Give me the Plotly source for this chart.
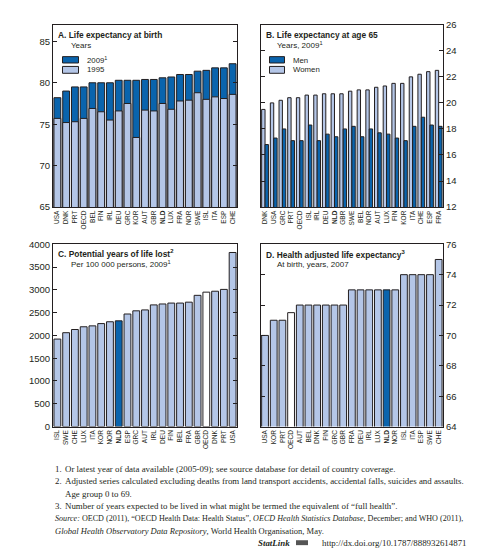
import plotly.graph_objects as go

# ---------------- data ----------------
a_countries = ["USA", "DNK", "PRT", "OECD", "BEL", "FIN", "IRL", "DEU", "GRC", "KOR", "AUT",
               "GBR", "NLD", "LUX", "FRA", "NOR", "SWE", "ISL", "ITA", "ESP", "CHE"]
a_2009 = [78.2, 79.0, 79.5, 79.5, 80.0, 80.0, 80.0, 80.3, 80.3, 80.3, 80.4,
          80.4, 80.6, 80.7, 81.0, 81.0, 81.4, 81.5, 81.8, 81.8, 82.3]
a_1995 = [75.7, 75.2, 75.3, 75.7, 76.9, 76.5, 75.5, 76.6, 77.5, 73.4, 76.7,
          76.6, 77.5, 76.8, 77.8, 77.9, 78.8, 78.0, 78.3, 78.1, 78.6]

b_countries = ["DNK", "USA", "GRC", "PRT", "OECD", "ISL", "IRL", "DEU", "NLD", "GBR", "SWE",
               "BEL", "NOR", "AUT", "LUX", "FIN", "KOR", "ITA", "CHE", "ESP", "FRA"]
b_women = [19.5, 20.0, 20.2, 20.4, 20.4, 20.6, 20.6, 20.7, 20.7, 20.7, 20.9,
           21.0, 21.0, 21.2, 21.3, 21.5, 21.5, 22.0, 22.2, 22.4, 22.5]
b_men = [16.8, 17.3, 18.0, 17.1, 17.1, 18.3, 17.1, 17.6, 17.4, 18.0, 18.2,
         17.4, 18.0, 17.7, 17.6, 17.3, 17.1, 18.2, 18.9, 18.3, 18.2]

c_countries = ["ISL", "SWE", "CHE", "LUX", "ITA", "KOR", "NOR", "NLD", "ESP", "GRC", "AUT",
               "IRL", "DEU", "FIN", "BEL", "FRA", "GBR", "OECD", "DNK", "PRT", "USA"]
c_values = [1920, 2060, 2130, 2190, 2210, 2260, 2300, 2320, 2470, 2540, 2560,
            2670, 2690, 2710, 2710, 2730, 2880, 2950, 2970, 3010, 3820]

d_countries = ["USA", "KOR", "PRT", "OECD", "AUT", "BEL", "DNK", "FIN", "GRC", "GBR", "FRA",
               "DEU", "IRL", "LUX", "NLD", "NOR", "ISL", "ITA", "ESP", "SWE", "CHE"]
d_values = [70, 71, 71, 71.5, 72, 72, 72, 72, 72, 72, 73,
            73, 73, 73, 73, 73, 74, 74, 74, 74, 75]

a_ticks = [65, 70, 75, 80, 85]
b_ticks = [12, 14, 16, 18, 20, 22, 24, 26]
c_ticks = [0, 500, 1000, 1500, 2000, 2500, 3000, 3500, 4000]
d_ticks = [64, 66, 68, 70, 72, 74, 76]

# ---------------- style ----------------
DARK = "#0a64ad"
LIGHT = "#b4c6e7"
EDGE = "#231f20"
TXT = "#231f20"
W, H = 478, 549
SANS = "Liberation Sans, Arial, sans-serif"
SERIF = "Liberation Serif, serif"


def px(x):
    return x / W


def py(y):
    return 1 - y / H


def labels(cats):
    return ["<b>%s</b>" % c if c == "NLD" else c for c in cats]


def highlight(cats):
    out = []
    for c in cats:
        if c == "OECD":
            out.append("white")
        elif c == "NLD":
            out.append(DARK)
        else:
            out.append(LIGHT)
    return out


line = dict(color=EDGE, width=1)

fig = go.Figure()
# Panel A (overlaid bars)
fig.add_trace(go.Bar(x=a_countries, y=a_2009, marker=dict(color=DARK, line=line),
                     offsetgroup="a", xaxis="x", yaxis="y", name="2009"))
fig.add_trace(go.Bar(x=a_countries, y=a_1995, marker=dict(color=LIGHT, line=line),
                     offsetgroup="a", xaxis="x", yaxis="y", name="1995"))
# Panel B (grouped)
fig.add_trace(go.Bar(x=b_countries, y=b_women, marker=dict(color=LIGHT, line=line),
                     xaxis="x2", yaxis="y2", name="Women"))
fig.add_trace(go.Bar(x=b_countries, y=b_men, marker=dict(color=DARK, line=line),
                     xaxis="x2", yaxis="y2", name="Men"))
# Panel C
fig.add_trace(go.Bar(x=c_countries, y=c_values, marker=dict(color=highlight(c_countries), line=line),
                     xaxis="x3", yaxis="y3"))
# Panel D
fig.add_trace(go.Bar(x=d_countries, y=d_values, marker=dict(color=highlight(d_countries), line=line),
                     xaxis="x4", yaxis="y4"))

xl_left = [px(45), px(229)]
xl_right = [px(252.7), px(435)]
yd_top = [py(197), py(11)]
yd_bot = [py(421), py(235)]


def xaxis(dom, anchor, cats):
    return dict(domain=dom, anchor=anchor, type="category", range=[-0.5, len(cats) - 0.5],
                tickmode="array", tickvals=cats, ticktext=labels(cats), tickangle=-90,
                tickfont=dict(family=SANS, size=6.5, color=TXT), ticks="",
                showline=True, mirror=True, linecolor=EDGE, linewidth=1, showgrid=False,
                fixedrange=True)


def yaxis(dom, anchor, rng, ticks, side):
    return dict(domain=dom, anchor=anchor, range=rng, tickmode="array", tickvals=ticks,
                ticks="inside", ticklen=4, tickcolor=EDGE, side=side,
                tickfont=dict(family=SANS, size=9.5, color=TXT),
                showline=True, mirror="ticks", linecolor=EDGE, linewidth=1,
                showgrid=False, zeroline=False, fixedrange=True)


fig.update_layout(
    width=W, height=H, margin=dict(l=0, r=0, t=0, b=0),
    paper_bgcolor="white", plot_bgcolor="white", showlegend=False,
    barmode="group", bargap=0.22, bargroupgap=0.0,
    xaxis=xaxis(xl_left, "y", a_countries),
    yaxis=yaxis(yd_top, "x", [65, 87], a_ticks, "left"),
    xaxis2=xaxis(xl_right, "y2", b_countries),
    yaxis2=yaxis(yd_top, "x2", [12, 26], b_ticks, "right"),
    xaxis3=xaxis(xl_left, "y3", c_countries),
    yaxis3=yaxis(yd_bot, "x3", [0, 4000], c_ticks, "left"),
    xaxis4=xaxis(xl_right, "y4", d_countries),
    yaxis4=yaxis(yd_bot, "x4", [64, 76], d_ticks, "right"),
)

ann = []


def text(x, y, s, size=9, bold=False, family=SANS, anchor="left"):
    ann.append(dict(x=px(x), y=py(y), xref="paper", yref="paper", text=("<b>%s</b>" % s) if bold else s,
                    showarrow=False, xanchor=anchor, yanchor="middle",
                    font=dict(family=family, size=size, color=TXT)))


# panel titles
text(48, 21.5, "A. Life expectancy at birth", 8.4, True)
text(61, 32, "Years", 8)
text(256, 21.5, "B. Life expectancy at age 65", 8.4, True)
text(267, 32, "Years, 2009<sup>1</sup>", 8)
text(48, 244.5, "C. Potential years of life lost<sup>2</sup>", 8.4, True)
text(61, 255, "Per 100 000 persons, 2009<sup>1</sup>", 8)
text(256, 245, "D. Health adjusted life expectancy<sup>3</sup>", 8.4, True)
text(267, 256, "At birth, years, 2007", 8)

# legends
shapes = []


def swatch(x0, y0, x1, y1, color):
    shapes.append(dict(type="rect", xref="paper", yref="paper", x0=px(x0), x1=px(x1),
                       y0=py(y1), y1=py(y0), fillcolor=color, line=dict(color=EDGE, width=1)))


swatch(54.5, 43.5, 70.5, 50, DARK)
swatch(54.5, 53.5, 70.5, 60.5, LIGHT)
text(77, 47, "2009<sup>1</sup>", 7.8)
text(77, 57, "1995", 7.8)
swatch(261.5, 43.5, 276.5, 50, DARK)
swatch(261.5, 53.5, 276.5, 60.5, LIGHT)
text(283, 47, "Men", 7.8)
text(283, 57, "Women", 7.8)

# footnotes
fs = 8.9
notes_y = [464, 477, 489.5, 502, 515, 527.5]
text(45, notes_y[0], "1.", fs, family=SERIF)
text(55, notes_y[0], "Or latest year of data available (2005-09); see source database for detail of country coverage.", fs, family=SERIF)
text(45, notes_y[1], "2.", fs, family=SERIF)
text(55, notes_y[1], "Adjusted series calculated excluding deaths from land transport accidents, accidental falls, suicides and assaults.", fs, family=SERIF)
text(55, notes_y[2], "Age group 0 to 69.", fs, family=SERIF)
text(45, notes_y[3], "3.", fs, family=SERIF)
text(55, notes_y[3], "Number of years expected to be lived in what might be termed the equivalent of \u201cfull health\u201d.", fs, family=SERIF)
text(45, notes_y[4], "<i>Source:</i> OECD (2011), \u201cOECD Health Data: Health Status\u201d, <i>OECD Health Statistics Database</i>, December; and WHO (2011),", 8.1, family=SERIF)
text(45, notes_y[5], "<i>Global Health Observatory Data Repository</i>, World Health Organisation, May.", 8.5, family=SERIF)
text(284, 539.5, "<b><i>StatLink</i></b>", fs, family=SERIF, anchor="right")
text(461, 539.5, "http://dx.doi.org/10.1787/888932614871", fs, family=SERIF, anchor="right")
# StatLink icon
shapes.append(dict(type="rect", xref="paper", yref="paper", x0=px(288), x1=px(300),
                   y0=py(542), y1=py(537), fillcolor="#555555", line=dict(width=0)))

fig.update_layout(annotations=ann, shapes=shapes)
fig.write_html("out.html")
